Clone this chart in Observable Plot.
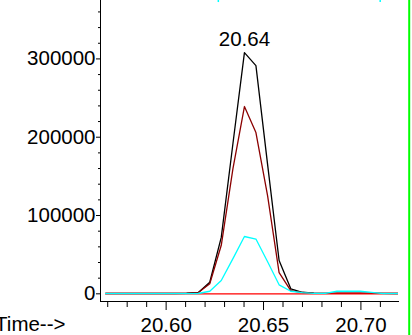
<!DOCTYPE html>
<html>
<head>
<meta charset="utf-8">
<script src="https://cdn.jsdelivr.net/npm/d3@7"></script>
<script src="https://cdn.jsdelivr.net/npm/@observablehq/plot@0.6"></script>
<style>
  html, body { margin: 0; padding: 0; background: #fff; }
  #chart { width: 412px; height: 335px; overflow: hidden; }
</style>
</head>
<body>
<div id="chart"></div>
<script>
// Scan times (min): peak scan 20.6402, step ~0.00594 min, k = -12 .. 14
const scanIndex = d3.range(-12, 15);
const times = scanIndex.map(k => +(20.6402 + k * 0.00594).toFixed(4));

// Abundances (one value per scan)
const blackSeries  = [500,500,500,500,500,500,500,800,1500,14800,72000,192000,308000,291500,165000,42500,6400,2000,1000,600,500,500,500,500,500,500,500];
const maroonSeries = [400,400,400,400,400,400,400,700,1300,12800,62000,160000,239200,206000,125000,27000,4000,1500,800,600,800,1000,1000,900,500,400,400];
const redSeries    = [0,0,0,0,0,0,0,0,0,0,0,0,0,0,0,0,0,0,0,0,0,0,0,0,0,0,0];
const cyanSeries   = [300,300,300,300,300,300,300,300,400,3300,17000,45000,73200,70000,41000,11500,3300,1500,600,500,3300,3500,3300,1800,300,300,300];

// Axis ticks
const xMajorTicks = [20.60, 20.65, 20.70];
const xMinorTicks = [20.57, 20.58, 20.59, 20.61, 20.62, 20.63, 20.64, 20.66, 20.67, 20.68, 20.69, 20.71];
const yMajorTicks = [0, 100000, 200000, 300000];
const yMinorTicks = d3.range(0, 380000, 20000).filter(v => v % 100000 !== 0);

// Peak label
const peakLabels = [{t: 20.6402, v: 308000, label: "20.64"}];
// Integration markers at top edge (cyan)
const topMarkers = [20.6268, 20.7099];
// Green right-hand bar
const greenBar = [20.7248];

const xDomain = [20.5663, 20.7193];
const yDomain = [-9800, 374600];

const rows = (vals) => times.map((t, i) => ({t, v: vals[i]}));

const FS = 20.5;

const chart = Plot.plot({
  width: 412,
  height: 335,
  marginLeft: 100,
  marginRight: 14,
  marginTop: 0,
  marginBottom: 34,
  style: {fontFamily: "'Liberation Sans', Arial, sans-serif", fontSize: FS + "px", background: "#fff", color: "#000", overflow: "visible"},
  x: {domain: xDomain},
  y: {domain: yDomain},
  marks: [
    Plot.line(rows(blackSeries),  {x: "t", y: "v", stroke: "#000000", strokeWidth: 1.3, clip: true}),
    Plot.line(rows(maroonSeries), {x: "t", y: "v", stroke: "#8b0000", strokeWidth: 1.3, clip: true}),
    Plot.line(rows(redSeries),    {x: "t", y: "v", stroke: "#ff0000", strokeWidth: 1.3, clip: true}),
    Plot.line(rows(cyanSeries),   {x: "t", y: "v", stroke: "#00ffff", strokeWidth: 1.3, clip: true}),
    Plot.ruleX(topMarkers, {x: d => d, y1: 372000, y2: 374600, stroke: "#00ffff", strokeWidth: 1.5}),
    Plot.ruleX(greenBar, {x: d => d, y1: -53500, y2: 374600, stroke: "#00ff00", strokeWidth: 2}),
    Plot.frame({anchor: "left", stroke: "#000"}),
    Plot.frame({anchor: "bottom", stroke: "#000"}),
    Plot.axisY({ticks: yMajorTicks, tickSize: 4, tickPadding: 1, tickFormat: d => String(d), label: null, fontSize: FS}),
    Plot.axisY({ticks: yMinorTicks, tickSize: 2, tickFormat: () => "", label: null}),
    Plot.axisX({ticks: xMajorTicks, tickSize: 9, tickPadding: 7, tickFormat: d3.format(".2f"), label: null, fontSize: FS}),
    Plot.axisX({ticks: xMinorTicks, tickSize: 6, tickFormat: () => "", label: null}),
    Plot.text(["Time-->"], {frameAnchor: "bottom-left", text: d => d, textAnchor: "end", lineAnchor: "bottom", dx: -35, dy: 29, fontSize: FS}),
    Plot.text(peakLabels, {x: "t", y: "v", text: "label", lineAnchor: "bottom", dy: -7, fontSize: FS})
  ]
});
document.getElementById("chart").appendChild(chart);
</script>
</body>
</html>
